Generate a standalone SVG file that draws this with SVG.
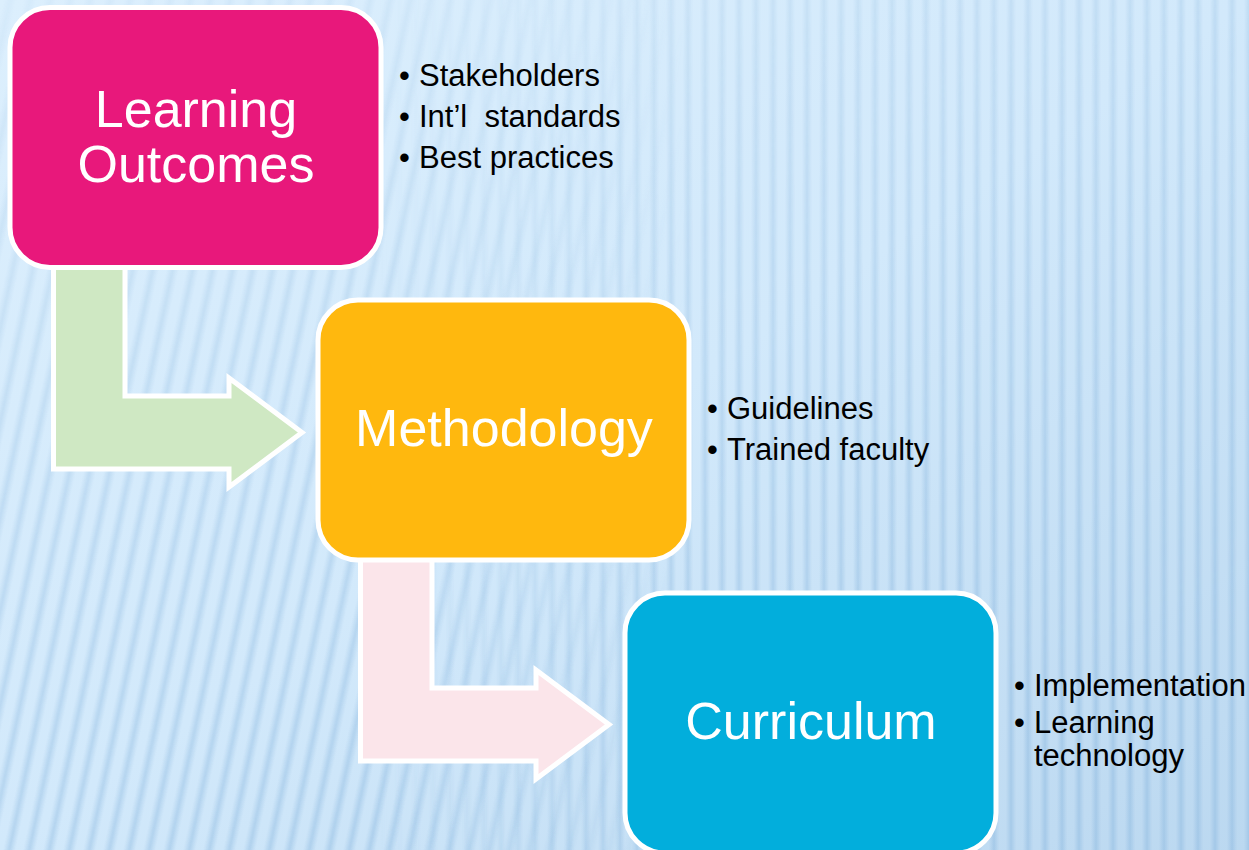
<svg xmlns="http://www.w3.org/2000/svg" width="1249" height="850" viewBox="0 0 1249 850">
  <style>
    .box { stroke: #ffffff; stroke-width: 5; }
    .title { font-family: "Liberation Sans", Arial, sans-serif; font-size: 52px; fill: #ffffff; text-anchor: middle; }
    .bul { font-family: "Liberation Sans", Arial, sans-serif; font-size: 31px; fill: #000000; }
    .arrow { stroke: #ffffff; stroke-width: 5; stroke-linejoin: miter; }
  </style>
  <defs>
    <linearGradient id="bg" x1="0" y1="0" x2="1" y2="1">
      <stop offset="0" stop-color="#DCEFFD"/>
      <stop offset="0.5" stop-color="#D2E9FB"/>
      <stop offset="1" stop-color="#BBD8F0"/>
    </linearGradient>
    <linearGradient id="stripeG" x1="0" y1="0" x2="1" y2="0">
      <stop offset="0" stop-color="#8DB9E0" stop-opacity="0"/>
      <stop offset="0.5" stop-color="#8DB9E0" stop-opacity="0.5"/>
      <stop offset="1" stop-color="#8DB9E0" stop-opacity="0"/>
    </linearGradient>
    <pattern id="stripesSkew" patternUnits="userSpaceOnUse" width="20" height="850" patternTransform="skewX(-12)">
      <rect x="4" y="0" width="12" height="850" fill="url(#stripeG)"/>
    </pattern>
    <pattern id="stripesVert" patternUnits="userSpaceOnUse" width="17" height="850">
      <rect x="3" y="0" width="10" height="850" fill="url(#stripeG)"/>
    </pattern>
    <linearGradient id="mL" x1="0" y1="0" x2="1249" y2="0" gradientUnits="userSpaceOnUse">
      <stop offset="0" stop-color="#fff"/>
      <stop offset="0.3" stop-color="#fff"/>
      <stop offset="0.55" stop-color="#000"/>
    </linearGradient>
    <linearGradient id="mR" x1="0" y1="0" x2="1249" y2="0" gradientUnits="userSpaceOnUse">
      <stop offset="0.3" stop-color="#000"/>
      <stop offset="0.55" stop-color="#fff"/>
    </linearGradient>
    <linearGradient id="mFade" x1="0" y1="0" x2="0.5" y2="1">
      <stop offset="0" stop-color="#fff" stop-opacity="0.15"/>
      <stop offset="0.45" stop-color="#fff" stop-opacity="0.6"/>
      <stop offset="1" stop-color="#fff" stop-opacity="1"/>
    </linearGradient>
    <mask id="maskL"><rect width="1249" height="850" fill="url(#mL)"/></mask>
    <mask id="maskR"><rect width="1249" height="850" fill="url(#mR)"/></mask>
    <mask id="maskFade"><rect width="1249" height="850" fill="url(#mFade)"/></mask>
  </defs>

  <g id="background">
    <rect width="1249" height="850" fill="url(#bg)"/>
    <g mask="url(#maskFade)">
      <rect width="1249" height="850" fill="url(#stripesSkew)" mask="url(#maskL)"/>
      <rect width="1249" height="850" fill="url(#stripesVert)" mask="url(#maskR)"/>
    </g>
  </g>

  <g id="connectors">
    <polygon id="arrow-1" class="arrow" fill="#CFE8C3" points="53.5,262 125,262 125,396 229,396 229,378 302,432.5 229,487 229,469 53.5,469"/>
    <polygon id="arrow-2" class="arrow" fill="#FBE5EA" transform="translate(307,292)" points="53.5,262 125,262 125,396 229,396 229,378 302,432.5 229,487 229,469 53.5,469"/>
  </g>

  <g id="node-learning-outcomes">
    <rect class="box" x="10" y="7.5" width="371" height="260" rx="40" ry="40" fill="#E8187B"/>
    <text class="title" x="196" y="127">Learning</text>
    <text class="title" x="196" y="182">Outcomes</text>
  </g>
  <g id="list-1">
    <text class="bul" x="399" y="86">•</text><text class="bul" x="419" y="86">Stakeholders</text>
    <text class="bul" x="399" y="127">•</text><text class="bul" x="419" y="127" xml:space="preserve">Int’l  standards</text>
    <text class="bul" x="399" y="168">•</text><text class="bul" x="419" y="168">Best practices</text>
  </g>

  <g id="node-methodology">
    <rect class="box" x="318" y="300" width="371" height="260" rx="40" ry="40" fill="#FFB80E"/>
    <text class="title" x="504" y="446">Methodology</text>
  </g>
  <g id="list-2">
    <text class="bul" x="707" y="419">•</text><text class="bul" x="727" y="419">Guidelines</text>
    <text class="bul" x="707" y="460">•</text><text class="bul" x="727" y="460">Trained faculty</text>
  </g>

  <g id="node-curriculum">
    <rect class="box" x="625" y="593" width="371" height="260" rx="40" ry="40" fill="#02AEDC"/>
    <text class="title" x="811" y="739">Curriculum</text>
  </g>
  <g id="list-3">
    <text class="bul" x="1014" y="696">•</text><text class="bul" x="1034" y="696">Implementation</text>
    <text class="bul" x="1014" y="733">•</text><text class="bul" x="1034" y="733">Learning</text>
    <text class="bul" x="1034" y="766">technology</text>
  </g>
</svg>
